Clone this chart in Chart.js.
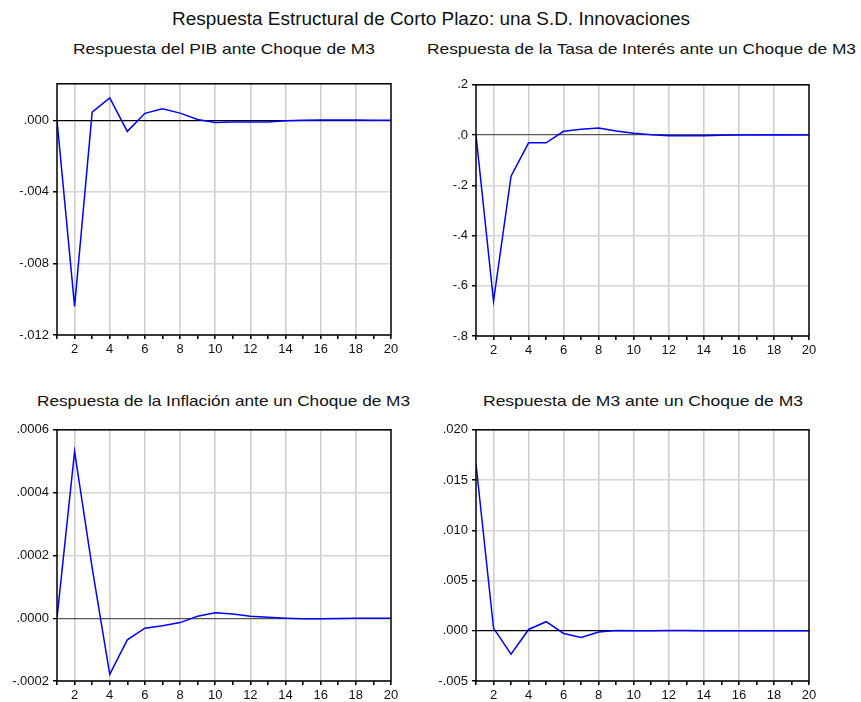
<!DOCTYPE html>
<html>
<head>
<meta charset="utf-8">
<script src="https://cdn.jsdelivr.net/npm/chart.js@4.4.1/dist/chart.umd.min.js"></script>
<style>
  body { margin: 0; background: #fff; width: 861px; height: 702px; position: relative; overflow: hidden; font-family: "Liberation Sans", Arial, sans-serif; color: #111; }
  .ttl { position: absolute; white-space: nowrap; transform-origin: 0 50%; line-height: 1; }
  canvas { position: absolute; }
</style>
</head>
<body>
<div class="ttl" id="t0" style="font-size:17.5px">Respuesta Estructural de Corto Plazo: una S.D. Innovaciones</div>
<div class="ttl" id="t1" style="font-size:14.5px">Respuesta del PIB ante Choque de M3</div>
<div class="ttl" id="t2" style="font-size:14.5px">Respuesta de la Tasa de Interés ante un Choque de M3</div>
<div class="ttl" id="t3" style="font-size:14.5px">Respuesta de la Inflación ante un Choque de M3</div>
<div class="ttl" id="t4" style="font-size:14.5px">Respuesta de M3 ante un Choque de M3</div>
<canvas id="c1" width="398" height="285" style="left:5px;top:72px"></canvas>
<canvas id="c2" width="397" height="285" style="left:424px;top:73px"></canvas>
<canvas id="c3" width="398" height="285" style="left:5px;top:418px"></canvas>
<canvas id="c4" width="397" height="285" style="left:424px;top:418px"></canvas>
<script>
// periodos
const periods = [1, 2, 3, 4, 5, 6, 7, 8, 9, 10, 11, 12, 13, 14, 15, 16, 17, 18, 19, 20];

// respuestas
const pibResp  = [0, -0.0104, 0.00045, 0.00125, -0.00062, 0.00039, 0.00065, 0.0004, 0.00005, -0.00012, -0.0001, -0.0001, -0.0001, -0.00003, 0, 0.00001, 0.00001, 0.00001, 0, 0];
const tasaResp = [0, -0.661, -0.164, -0.031, -0.031, 0.015, 0.023, 0.028, 0.016, 0.007, 0.001, -0.003, -0.003, -0.003, -0.001, 0, 0, 0.001, 0, 0];
const inflResp = [0, 0.000531, 0.00016, -0.000179, -0.000069, -0.000032, -0.000024, -0.000014, 0.000006, 0.000017, 0.000013, 0.000006, 0.000003, 0, -0.000002, -0.000002, -0.000001, 0, 0, 0];
const m3Resp   = [0.0166, 0.00027, -0.00233, 0.00013, 0.0009, -0.00027, -0.00067, -0.00013, 0.00003, 0, 0, 0.00003, 0.00002, 0.00001, 0, 0, 0, 0, 0, 0];

// ticks del eje y
const pibTicks  = [-0.012, -0.008, -0.004, 0];
const pibLabels = ['-.012', '-.008', '-.004', '.000'];
const tasaTicks  = [-0.8, -0.6, -0.4, -0.2, 0, 0.2];
const tasaLabels = ['-.8', '-.6', '-.4', '-.2', '.0', '.2'];
const inflTicks  = [-0.0002, 0, 0.0002, 0.0004, 0.0006];
const inflLabels = ['-.0002', '.0000', '.0002', '.0004', '.0006'];
const m3Ticks  = [-0.005, 0, 0.005, 0.010, 0.015, 0.020];
const m3Labels = ['-.005', '.000', '.005', '.010', '.015', '.020'];

// titulos: posicion y ancho medido en la imagen
function fitTitle(id, left, width, cy) {
  const el = document.getElementById(id);
  const w = el.getBoundingClientRect().width;
  el.style.left = left + 'px';
  el.style.top = (cy - el.getBoundingClientRect().height / 2) + 'px';
  el.style.transform = 'scaleX(' + (width / w) + ')';
}
fitTitle('t0', 172, 518, 20);
fitTitle('t1', 73, 302, 49);
fitTitle('t2', 427, 429, 49);
fitTitle('t3', 37, 373, 401);
fitTitle('t4', 483, 320, 401);

const boxPlugin = {
  id: 'box',
  afterDatasetsDraw(chart) {
    const a = chart.chartArea, ctx = chart.ctx;
    ctx.save();
    ctx.strokeStyle = '#000';
    ctx.lineWidth = 1.5;
    ctx.strokeRect(a.left, a.top, a.right - a.left, a.bottom - a.top);
    ctx.restore();
  }
};

function makeChart(id, values, yMin, yMax, yTicks, yLabels, zeroColor) {
  new Chart(document.getElementById(id), {
    type: 'line',
    data: {
      datasets: [{
        data: values.map((v, i) => ({ x: periods[i], y: v })),
        borderColor: '#0000ff',
        borderWidth: 1.5,
        pointRadius: 0,
        tension: 0,
        fill: false
      }]
    },
    options: {
      responsive: false,
      animation: false,
      events: [],
      layout: { padding: { top: 8, right: 12, left: 0, bottom: 0 } },
      plugins: { legend: { display: false }, tooltip: { enabled: false } },
      scales: {
        x: {
          type: 'linear',
          min: 1, max: 20,
          afterBuildTicks: s => { s.ticks = periods.map(p => ({ value: p })); },
          afterFit: s => { s.height = 22; },
          border: { display: false },
          grid: {
            color: c => (c.tick && c.tick.value % 2 === 0 && c.tick.value !== 20) ? '#cfcfcf' : 'rgba(0,0,0,0)',
            lineWidth: 1.6,
            tickColor: '#000',
            tickLength: 4
          },
          ticks: {
            autoSkip: false,
            maxRotation: 0,
            padding: 3,
            color: '#111',
            font: { family: 'Liberation Sans', size: 13 },
            callback: v => (v % 2 === 0 ? String(v) : '')
          }
        },
        y: {
          min: yMin, max: yMax,
          afterBuildTicks: s => { s.ticks = yTicks.map(v => ({ value: v })); },
          afterFit: s => { s.width = 52; },
          border: { display: false },
          grid: {
            color: c => (c.tick && Math.abs(c.tick.value) < 1e-12) ? zeroColor : '#d6d6d6',
            lineWidth: c => (c.tick && Math.abs(c.tick.value) < 1e-12) ? 1.3 : 1.5,
            tickColor: '#000',
            tickLength: 4
          },
          ticks: {
            padding: 4,
            color: '#111',
            font: { family: 'Liberation Sans', size: 13 },
            callback: (v, i) => yLabels[i]
          }
        }
      }
    },
    plugins: [boxPlugin]
  });
}

makeChart('c1', pibResp, -0.012, 0.00204, pibTicks, pibLabels, '#000');
makeChart('c2', tasaResp, -0.8, 0.2, tasaTicks, tasaLabels, '#555');
makeChart('c3', inflResp, -0.0002, 0.0006, inflTicks, inflLabels, '#555');
makeChart('c4', m3Resp, -0.005, 0.020, m3Ticks, m3Labels, '#000');
</script>
</body>
</html>
